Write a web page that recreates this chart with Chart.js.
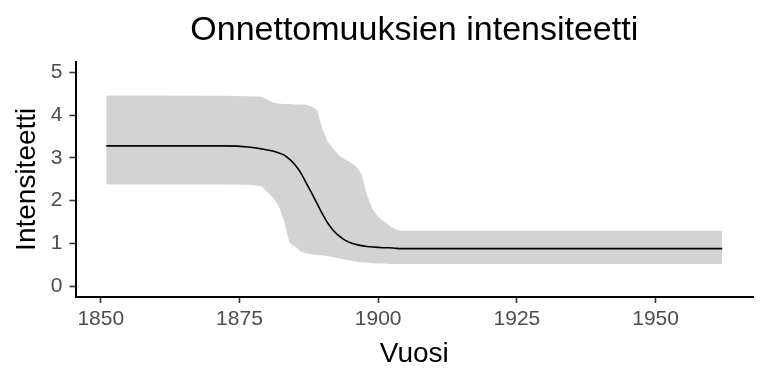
<!DOCTYPE html>
<html>
<head>
<meta charset="utf-8">
<script src="https://cdn.jsdelivr.net/npm/chart.js@4"></script>
<style>
  body { margin: 0; background: #fff; }
  canvas { display: block; }
</style>
</head>
<body>
<canvas id="chart" width="768" height="384"></canvas>
<script>
// values
const years = [1851, 1872, 1877, 1879, 1881, 1882, 1883, 1884, 1885, 1886, 1887, 1888, 1889, 1890,
    1891, 1892, 1893, 1894, 1895, 1896, 1897, 1898, 1899, 1900, 1901, 1902, 1903, 1904, 1962];
const intensity = [3.28, 3.28, 3.25, 3.21, 3.16, 3.12, 3.07, 2.97, 2.84, 2.66, 2.42, 2.18, 1.93, 1.68,
    1.46, 1.29, 1.17, 1.08, 1.02, 0.98, 0.95, 0.93, 0.92, 0.91, 0.90, 0.90, 0.89, 0.88, 0.88];
const upper = [4.46, 4.45, 4.44, 4.43, 4.30, 4.27, 4.26, 4.26, 4.25, 4.25, 4.24, 4.20, 4.12, 3.65,
    3.36, 3.20, 3.05, 2.97, 2.90, 2.80, 2.62, 2.12, 1.80, 1.62, 1.52, 1.42, 1.34, 1.30, 1.30];
const lower = [2.38, 2.38, 2.37, 2.33, 2.08, 1.90, 1.55, 1.02, 0.93, 0.82, 0.77, 0.75, 0.73, 0.72,
    0.70, 0.67, 0.65, 0.62, 0.60, 0.58, 0.56, 0.55, 0.54, 0.53, 0.53, 0.52, 0.52, 0.52, 0.52];
const xTicks = [1850, 1875, 1900, 1925, 1950];
const yTicks = [0, 1, 2, 3, 4, 5];
const titleText = 'Onnettomuuksien intensiteetti';

const FONT = "'Liberation Sans', Arial, sans-serif";

function toPoints(values) {
    return years.map((yr, i) => ({ x: yr, y: values[i] }));
}

// title centred over the plot panel, like ggplot does
const panelTitle = {
    id: 'panelTitle',
    afterDraw(chart) {
        const c = chart.ctx;
        const area = chart.chartArea;
        c.save();
        c.font = `34px ${FONT}`;
        c.fillStyle = '#000';
        c.textAlign = 'center';
        c.textBaseline = 'alphabetic';
        c.fillText(titleText, (area.left + area.right) / 2, 40);
        c.restore();
    }
};

document.addEventListener('DOMContentLoaded', function() {
    const ctx = document.getElementById('chart').getContext('2d');
    new Chart(ctx, {
        type: 'line',
        data: {
            datasets: [
                {
                    label: 'lower',
                    data: toPoints(lower),
                    borderWidth: 0,
                    pointRadius: 0,
                    fill: false,
                    order: 2
                },
                {
                    label: 'upper',
                    data: toPoints(upper),
                    borderWidth: 0,
                    pointRadius: 0,
                    backgroundColor: '#d3d3d3',
                    fill: '-1',
                    order: 1
                },
                {
                    label: 'Intensiteetti',
                    data: toPoints(intensity),
                    borderColor: '#000',
                    borderWidth: 1.6,
                    pointRadius: 0,
                    cubicInterpolationMode: 'monotone',
                    fill: false,
                    order: -1
                }
            ]
        },
        options: {
            responsive: false,
            animation: false,
            layout: { padding: { left: 0, right: 15, top: 61.6, bottom: 0 } },
            plugins: {
                legend: { display: false },
                tooltip: { enabled: false },
                title: { display: false }
            },
            scales: {
                x: {
                    type: 'linear',
                    min: 1845.45,
                    max: 1967.55,
                    afterBuildTicks: scale => { scale.ticks = xTicks.map(v => ({ value: v })); },
                    afterFit: scale => { scale.height = 87; },
                    grid: { display: true, drawOnChartArea: false, tickLength: 6, tickColor: '#333', tickWidth: 1.6 },
                    border: { display: true, color: '#000', width: 2 },
                    ticks: {
                        color: '#4d4d4d',
                        padding: 4,
                        maxRotation: 0,
                        font: { family: FONT, size: 21 },
                        callback: v => String(v)
                    },
                    title: {
                        display: true,
                        text: 'Vuosi',
                        color: '#000',
                        font: { family: FONT, size: 28 },
                        padding: { top: 0, bottom: 13 }
                    }
                },
                y: {
                    type: 'linear',
                    min: -0.25,
                    max: 5.25,
                    afterBuildTicks: scale => { scale.ticks = yTicks.map(v => ({ value: v })); },
                    afterFit: scale => { scale.width = 75.5; },
                    grid: { display: true, drawOnChartArea: false, tickLength: 6, tickColor: '#333', tickWidth: 1.6 },
                    border: { display: true, color: '#000', width: 2 },
                    ticks: {
                        color: '#4d4d4d',
                        padding: 7,
                        font: { family: FONT, size: 21 },
                        callback: v => String(v)
                    },
                    title: {
                        display: true,
                        text: 'Intensiteetti',
                        color: '#000',
                        font: { family: FONT, size: 28 },
                        padding: { top: 10, bottom: 0 }
                    }
                }
            }
        },
        plugins: [panelTitle]
    });
});
</script>
</body>
</html>
